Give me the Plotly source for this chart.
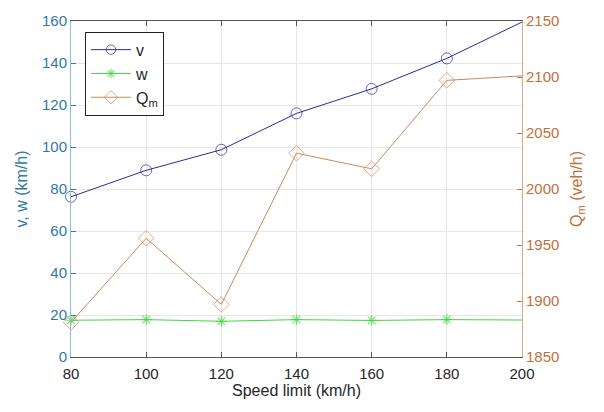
import plotly.graph_objects as go

# Speed limit scenarios (km/h)
speed_limit = [80, 100, 120, 140, 160, 180, 200]
# Mean speed v and wave speed w (km/h)
v_speed = [76.3, 88.9, 98.7, 116.0, 127.7, 142.2, 159.5]
w_speed = [17.5, 17.8, 17.0, 17.8, 17.4, 17.8, 17.6]
# Maximum flow Q_m (veh/h)
q_max = [1881, 1956, 1897, 2032, 2018, 2097, 2101]

left_ticks = list(range(0, 161, 20))
right_ticks = list(range(1850, 2151, 50))
x_ticks = speed_limit

FONT = "Liberation Sans, Arial, Helvetica, sans-serif"
LEFT_C = "#2f78a8"
RIGHT_C = "#c0703a"

# markers on every sample except the last one
def marker_sizes(n, s):
    return [s] * (n - 1) + [0]

n = len(speed_limit)
fig = go.Figure()
fig.add_trace(go.Scatter(
    x=speed_limit, y=v_speed, name="v", mode="lines+markers",
    line=dict(color="#2a2a9a", width=1),
    marker=dict(symbol="circle-open", size=marker_sizes(n, 11), color="#2a2a9a",
                line=dict(width=1)),
    cliponaxis=False,
))
fig.add_trace(go.Scatter(
    x=speed_limit, y=w_speed, name="w", mode="lines+markers",
    line=dict(color="#3ed83e", width=1),
    marker=dict(symbol="asterisk-open", size=marker_sizes(n, 9), color="#3ed83e",
                line=dict(width=1.2, color="#3ed83e")),
    cliponaxis=False,
))
fig.add_trace(go.Scatter(
    x=speed_limit, y=q_max, name="Q<sub>m</sub>", mode="lines+markers",
    yaxis="y2",
    line=dict(color="#c98a5c", width=1),
    marker=dict(symbol="diamond-open", size=marker_sizes(n, 12), color="#c98a5c",
                line=dict(width=1)),
    cliponaxis=False,
))

fig.update_layout(
    width=604, height=412,
    margin=dict(l=71, r=82, t=15, b=55),
    paper_bgcolor="white", plot_bgcolor="white",
    font=dict(family=FONT, size=15, color="#262626"),
    showlegend=True,
    legend=dict(
        x=0.031, y=0.968, xanchor="left", yanchor="top",
        bgcolor="white", bordercolor="#222222", borderwidth=1,
        font=dict(family=FONT, size=16, color="#262626"),
        tracegroupgap=0, itemwidth=40,
    ),
    xaxis=dict(
        range=[80, 200], tickvals=x_ticks, ticktext=[str(t) for t in x_ticks],
        showgrid=True, gridcolor="#e6e6e6", gridwidth=1,
        showline=True, linecolor="#555555", linewidth=1, mirror="ticks",
        ticks="inside", ticklen=5, tickcolor="#555555",
        ticklabelstandoff=3,
        tickfont=dict(family=FONT, size=15, color="#262626"),
        title=dict(text="Speed limit (km/h)", standoff=1,
                   font=dict(family=FONT, size=16, color="#262626")),
        zeroline=False,
    ),
    yaxis=dict(
        range=[0, 160], tickvals=left_ticks,
        showgrid=True, gridcolor="#e6e6e6", gridwidth=1,
        showline=True, linecolor="#8fbcd8", linewidth=1,
        ticks="inside", ticklen=5, tickcolor=LEFT_C,
        tickfont=dict(family=FONT, size=15, color=LEFT_C),
        title=dict(text="v, w (km/h)", standoff=10,
                   font=dict(family=FONT, size=16, color=LEFT_C)),
        zeroline=False,
    ),
    yaxis2=dict(
        range=[1850, 2150], tickvals=right_ticks,
        overlaying="y", side="right",
        showgrid=False,
        showline=True, linecolor="#d9a886", linewidth=1,
        ticks="inside", ticklen=5, tickcolor=RIGHT_C,
        tickfont=dict(family=FONT, size=15, color=RIGHT_C),
        title=dict(text="Q<sub>m</sub> (veh/h)", standoff=12,
                   font=dict(family=FONT, size=16, color=RIGHT_C)),
        zeroline=False,
    ),
)

fig.write_html("out.html")
